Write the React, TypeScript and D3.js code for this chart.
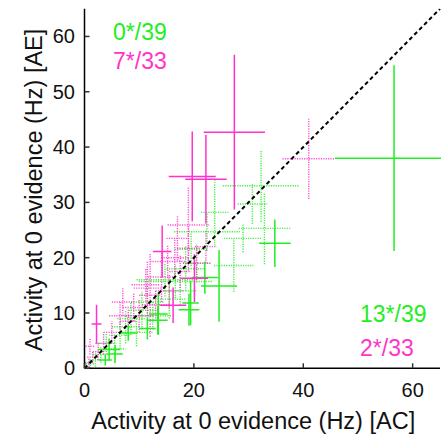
import React from "react";
import * as d3 from "d3";

// [x, y, xErr, yErr]
const greenSolid: number[][] = [
  [56.6, 38.0, 10.8, 16.8],
  [34.8, 22.6, 2.9, 4.3],
  [24.6, 14.9, 3.3, 6.5],
  [22.0, 16.4, 2.4, 2.9],
  [19.4, 11.8, 1.5, 4.0],
  [19.1, 10.6, 1.9, 2.9],
  [13.5, 9.8, 1.7, 3.8],
  [13.4, 8.7, 1.8, 2.5],
  [5.6, 2.6, 1.4, 1.6],
  [4.5, 3.4, 2.0, 2.0],
  [8.0, 6.4, 1.7, 1.4],
  [3.8, 1.5, 1.2, 1.0],
  [11.5, 7.2, 1.5, 2.0],
];

const greenDotted: number[][] = [
  [32.3, 33.0, 7.0, 6.5],
  [30.7, 29.7, 2.7, 3.6],
  [32.9, 25.3, 4.7, 6.5],
  [27.3, 18.6, 3.6, 4.8],
  [23.8, 28.2, 2.5, 6.0],
  [22.4, 24.7, 6.0, 3.5],
  [29.0, 23.5, 3.5, 2.5],
  [19.5, 21.5, 3.0, 3.0],
  [18.5, 18.0, 3.5, 4.0],
  [1.0, 0.8, 0.8, 0.8],
  [2.0, 1.5, 1.0, 1.2],
  [3.0, 2.5, 1.5, 1.5],
  [4.0, 4.5, 1.8, 2.0],
  [5.5, 3.5, 2.0, 2.5],
  [6.5, 6.0, 2.0, 2.5],
  [7.5, 7.5, 2.5, 3.0],
  [8.5, 9.0, 2.5, 3.0],
  [9.5, 6.5, 3.0, 2.5],
  [10.5, 10.5, 2.5, 3.5],
  [11.5, 12.0, 3.0, 3.0],
  [12.5, 9.5, 3.5, 2.5],
  [14.7, 16.0, 5.2, 3.0],
  [15.5, 12.5, 3.0, 3.5],
  [16.6, 15.7, 6.7, 3.0],
  [17.5, 14.0, 3.0, 2.5],
  [20.5, 19.0, 2.5, 3.5],
];

const pinkSolid: number[][] = [
  [27.4, 42.7, 5.6, 14.0],
  [19.7, 34.7, 4.3, 8.1],
  [22.2, 34.2, 3.8, 8.0],
  [14.2, 21.1, 1.7, 4.7],
  [2.2, 8.0, 0.9, 3.5],
  [20.1, 16.3, 2.5, 4.3],
  [16.2, 11.4, 2.4, 3.2],
];

const pinkDotted: number[][] = [
  [41.0, 37.9, 4.8, 7.3],
  [19.0, 25.9, 3.8, 6.9],
  [19.0, 21.7, 2.1, 4.0],
  [15.2, 19.3, 3.2, 3.0],
  [11.2, 15.1, 2.6, 3.0],
  [12.0, 13.2, 2.0, 7.5],
  [11.5, 14.5, 2.5, 5.0],
  [14.1, 16.5, 2.5, 4.5],
  [16.5, 20.0, 2.5, 3.5],
  [17.0, 23.5, 2.0, 4.0],
  [20.5, 19.0, 2.5, 3.0],
  [22.2, 22.0, 2.0, 3.0],
  [9.0, 11.0, 2.0, 2.5],
  [10.0, 9.5, 2.5, 3.0],
  [8.0, 8.5, 1.5, 2.0],
  [6.5, 9.5, 2.0, 2.5],
  [5.0, 6.5, 1.5, 2.0],
  [3.5, 4.5, 1.5, 2.0],
  [2.5, 3.0, 1.0, 1.5],
  [1.5, 2.0, 1.0, 1.0],
  [0.8, 1.0, 0.7, 0.8],
  [13.0, 11.5, 2.5, 2.5],
  [15.5, 14.0, 2.5, 3.0],
  [17.5, 17.5, 2.0, 3.0],
  [7.0, 12.0, 2.0, 2.5],
  [1.0, 4.0, 0.8, 1.5],
];

const xTicks = [0, 20, 40, 60];
const yTicks = [0, 10, 20, 30, 40, 50, 60];
const legendTop = ["0*/39", "7*/33"];
const legendBottom = ["13*/39", "2*/33"];
const xLabel = "Activity at 0 evidence (Hz) [AC]";
const yLabel = "Activity at 0 evidence (Hz) [AE]";

const GREEN = "#22ee22";
const PINK = "#ff33cc";
const FONT = "'Liberation Sans', Arial, sans-serif";

export default function App() {
  const W = 441, H = 434;
  const x = d3.scaleLinear().domain([0, 65]).range([84.5, 440]);
  const y = d3.scaleLinear().domain([0, 65]).range([368.3, 8.8]);

  const cross = (d: number[], color: string, dotted: boolean, key: string) => (
    <g key={key} stroke={color} strokeWidth={dotted ? 1.4 : 1.5} strokeDasharray={dotted ? "1.2,1.2" : undefined} opacity={dotted ? 0.85 : 1}>
      <line x1={x(d[0] - d[2])} x2={x(d[0] + d[2])} y1={y(d[1])} y2={y(d[1])} />
      <line x1={x(d[0])} x2={x(d[0])} y1={y(d[1] - d[3])} y2={y(d[1] + d[3])} />
    </g>
  );

  return (
    <svg width={W} height={H} style={{ position: "absolute", left: 0, top: 0, background: "#fff" }} fontFamily={FONT}>
      <defs>
        <clipPath id="plotclip">
          <rect x={x(0)} y={y(65)} width={x(65) - x(0) + 1} height={y(0) - y(65)} />
        </clipPath>
      </defs>
      <g clipPath="url(#plotclip)">
        {greenDotted.map((d, i) => cross(d, GREEN, true, "gd" + i))}
        {pinkDotted.map((d, i) => cross(d, PINK, true, "pd" + i))}
        {greenSolid.map((d, i) => cross(d, GREEN, false, "gs" + i))}
        {pinkSolid.map((d, i) => cross(d, PINK, false, "ps" + i))}
        <line x1={x(0)} y1={y(0)} x2={x(65)} y2={y(65)} stroke="#000" strokeWidth={2} strokeDasharray="4,3" />
      </g>
      {/* axes */}
      <line x1={x(0)} x2={x(0)} y1={y(0)} y2={y(65)} stroke="#000" strokeWidth={1.5} />
      <line x1={x(0)} x2={x(65)} y1={y(0)} y2={y(0)} stroke="#000" strokeWidth={1.5} />
      {yTicks.map((t) => (
        <g key={"yt" + t}>
          <line x1={x(0)} x2={x(0) + 5} y1={y(t)} y2={y(t)} stroke="#333" strokeWidth={1.5} />
          <text x={75} y={y(t)} dy="0.35em" textAnchor="end" fontSize={20} fill="#111">{t}</text>
        </g>
      ))}
      {xTicks.map((t) => (
        <g key={"xt" + t}>
          <line x1={x(t)} x2={x(t)} y1={y(0)} y2={y(0) - 5} stroke="#333" strokeWidth={1.5} />
          <text x={x(t)} y={397} textAnchor="middle" fontSize={20} fill="#111">{t}</text>
        </g>
      ))}
      <text x={(x(0) + 412) / 2 + 5} y={429} textAnchor="middle" fontSize={23.5} fill="#111">{xLabel}</text>
      <text transform={`translate(42,190) rotate(-90)`} textAnchor="middle" fontSize={23.5} fill="#111">{yLabel}</text>
      <text x={113} y={40} fontSize={23} fill={GREEN}>{legendTop[0]}</text>
      <text x={113} y={68.5} fontSize={23} fill={PINK}>{legendTop[1]}</text>
      <text x={360} y={321.5} fontSize={23} fill={GREEN}>{legendBottom[0]}</text>
      <text x={360} y={356} fontSize={23} fill={PINK}>{legendBottom[1]}</text>
    </svg>
  );
}
